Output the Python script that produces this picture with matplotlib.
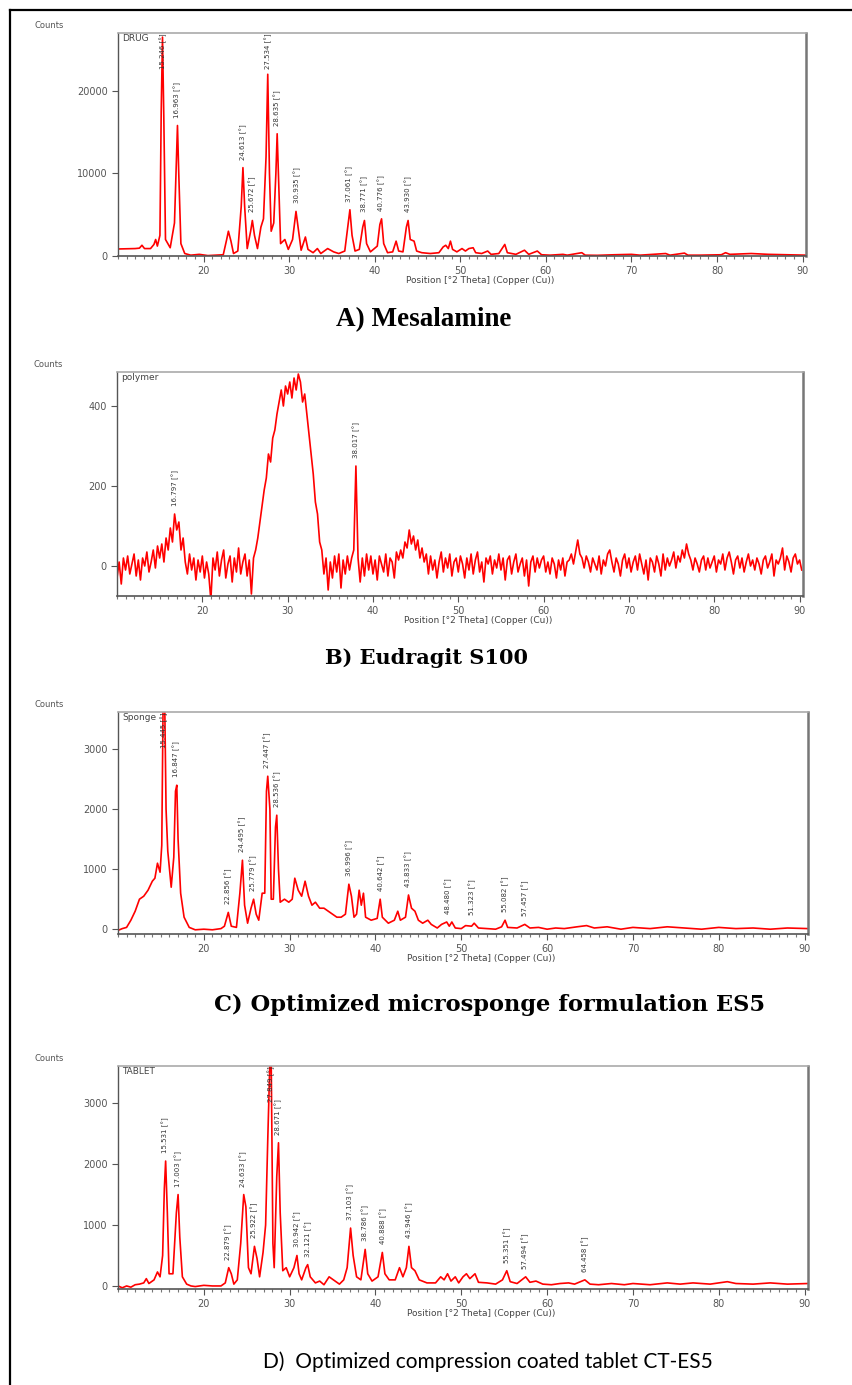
import matplotlib.pyplot as plt
import numpy as np
from matplotlib.ticker import MultipleLocator
from matplotlib.lines import Line2D

# ---- A) Mesalamine (drug) : traced (2theta, counts) points
drug_trace = [
    (10, 850), (11, 870), (12, 900), (12.5, 950), (12.8, 1300), (13.1, 900), (13.8, 900),
    (14.2, 1400), (14.4, 2000), (14.6, 1200), (14.9, 2500), (15.05, 17500), (15.2, 26500),
    (15.35, 17000), (15.55, 2000), (16.1, 1000), (16.6, 4000), (16.8, 11000), (16.95, 15800),
    (17.1, 10000), (17.35, 1500), (17.8, 300), (18.5, 100), (19.5, 200), (20.5, 50), (21.5, 100),
    (22.3, 150), (22.7, 2000), (22.9, 3000), (23.2, 1800), (23.5, 300), (24.0, 600), (24.4, 6000),
    (24.6, 10700), (24.8, 6000), (25.1, 900), (25.5, 3000), (25.7, 4300), (25.95, 2500),
    (26.3, 900), (26.7, 3500), (27.0, 4500), (27.3, 12000), (27.5, 22000), (27.7, 10000),
    (27.9, 3000), (28.2, 4000), (28.45, 10000), (28.6, 14800), (28.8, 8000), (29.0, 1500),
    (29.5, 2000), (29.9, 800), (30.4, 2000), (30.8, 5400), (31.1, 3000), (31.4, 700),
    (31.9, 2300), (32.2, 800), (32.8, 400), (33.3, 900), (33.7, 300), (34.5, 900), (35.2, 500),
    (35.8, 300), (36.5, 600), (36.9, 4000), (37.1, 5600), (37.35, 2500), (37.7, 600),
    (38.2, 800), (38.6, 3500), (38.8, 4300), (39.05, 1500), (39.5, 500), (40.3, 1200),
    (40.6, 3800), (40.8, 4500), (41.05, 1500), (41.5, 400), (42.1, 500), (42.5, 1800),
    (42.8, 600), (43.3, 500), (43.7, 3500), (43.9, 4300), (44.15, 2000), (44.6, 1800),
    (44.9, 600), (45.5, 400), (46.5, 300), (47.5, 400), (48.0, 1100), (48.3, 1300), (48.6, 900),
    (48.85, 1800), (49.1, 800), (49.6, 500), (50.2, 900), (50.6, 600), (51.0, 900), (51.5, 1000),
    (51.8, 400), (52.5, 300), (53.2, 600), (53.6, 200), (54.5, 300), (55.2, 1400), (55.5, 400),
    (56.5, 200), (57.5, 700), (58.0, 200), (59.0, 600), (59.5, 150), (60.5, 100), (62.0, 200),
    (62.5, 100), (64.2, 400), (64.6, 100), (66, 80), (68, 150), (70, 200), (71, 100), (74, 300),
    (74.5, 100), (76.2, 350), (76.6, 100), (78, 100), (80.5, 150), (81, 400), (81.5, 200),
    (84, 300), (86, 200), (88, 150), (90.4, 100),
]
drug_peaks = [15.246, 16.963, 24.613, 25.672, 27.534, 28.635, 30.935,
              37.061, 38.771, 40.776, 43.930]

# ---- B) Eudragit S100 (polymer) : counts read every 0.25 deg from 10.0
polymer_start, polymer_step = 10.0, 0.25
polymer_counts = [
    -30, 10, -45, 20, -10, 25, -20, 5, 30, -25, 15, -35, 20, 0, 35, -15, 10, 40, -5, 50,
    20, 55, 10, 70, 40, 95, 60, 130, 90, 110, 40, 70, 10, -20, 30, -10, 20, -35, 15, -15,
    25, -30, 10, -20, -85, 20, -10, 35, -25, 15, 40, -30, 5, 25, -40, 20, -15, 45, -20, 10,
    30, -25, 15, -70, 20, 40, 70, 110, 150, 190, 220, 280, 260, 320, 340, 380, 410, 440, 400, 450,
    430, 460, 420, 470, 440, 480, 460, 410, 430, 380, 330, 280, 230, 160, 130, 60, 40, -20, 20, -60,
    10, -30, 25, -15, 30, -55, 15, -20, 25, -10, 20, 40, 250, 20, -40, 20, -25, 30, -10, 25,
    -20, 15, -35, 25, 5, -15, 30, -25, 20, 10, -30, 35, 15, 40, 20, 60, 45, 90, 55, 75,
    40, 65, 20, 45, 10, 30, -20, 25, -10, 15, -30, 10, 35, -15, 20, -5, 30, -25, 10, 20,
    -15, 25, 5, -30, 20, -10, 30, -20, 15, 35, -15, 10, -40, 20, 5, 25, -20, 15, -5, 30,
    -10, 20, -35, 15, 25, -20, 10, 30, -15, 5, 20, -25, 15, -50, 10, 25, -15, 20, -5, 15,
    25, -15, 10, -20, 20, 5, -30, 15, -10, 20, -25, 10, 15, 30, 5, 35, 65, 30, 20, -5,
    25, 10, -15, 20, 5, -10, 25, -20, 15, 0, 30, 40, 10, -15, 20, 5, -25, 15, 30, -5,
    20, -15, 10, 25, -10, 30, 5, -20, 15, -35, 20, 10, -15, 25, 5, -25, 30, -10, 20, 0,
    15, 35, -5, 25, 10, 40, 20, 55, 30, 15, -10, 20, 5, -15, 15, 25, -10, 20, -5, 10,
    25, -15, 15, 5, 30, -10, 20, 35, 10, -20, 15, 25, -5, 20, -15, 10, 30, 0, 15, -10,
    20, 5, -20, 15, 25, -5, 10, 30, -25, 15, 5, 20, 45, -10, 25, 10, -15, 20, 30, 5,
    15, -10,
]
polymer_peaks = [16.797, 38.017]

# ---- C) Microsponge ES5
sponge_trace = [
    (10, -20), (10.5, 10), (11, 30), (11.5, 150), (12, 300), (12.5, 500), (13, 550), (13.5, 650),
    (14, 800), (14.3, 850), (14.6, 1100), (14.9, 950), (15.1, 1400), (15.25, 3700), (15.45, 3700),
    (15.6, 2000), (15.8, 1300), (16.2, 700), (16.5, 1200), (16.7, 2300), (16.85, 2400),
    (17.0, 1500), (17.3, 600), (17.7, 200), (18.3, 30), (19, -10), (20, 0), (21, -10), (22, 10),
    (22.4, 50), (22.85, 280), (23.2, 50), (23.8, 30), (24.2, 600), (24.5, 1150), (24.75, 400),
    (25.1, 100), (25.5, 350), (25.8, 500), (26.1, 250), (26.4, 150), (26.8, 600), (27.1, 600),
    (27.3, 2300), (27.45, 2550), (27.7, 2000), (27.85, 500), (28.1, 500), (28.35, 1700),
    (28.5, 1900), (28.7, 1000), (28.9, 450), (29.4, 500), (29.9, 450), (30.3, 500), (30.6, 850),
    (31.0, 650), (31.4, 550), (31.8, 800), (32.2, 550), (32.6, 400), (33.0, 450), (33.5, 350),
    (34.0, 350), (34.5, 300), (35, 250), (35.5, 200), (36, 200), (36.5, 250), (36.9, 750),
    (37.2, 550), (37.5, 200), (37.8, 250), (38.1, 650), (38.35, 400), (38.6, 600), (38.85, 200),
    (39.5, 150), (40.2, 180), (40.55, 500), (40.8, 200), (41.5, 100), (42.2, 150), (42.6, 300),
    (42.9, 150), (43.5, 200), (43.85, 570), (44.2, 350), (44.6, 300), (45.0, 150), (45.5, 100),
    (46.1, 150), (46.5, 80), (47.2, 20), (47.7, 80), (48.3, 120), (48.6, 50), (48.9, 120),
    (49.3, 20), (50.0, 10), (50.5, 60), (51.2, 50), (51.5, 100), (52, 20), (53, 10), (54, 0),
    (54.7, 40), (55.1, 150), (55.4, 30), (56.5, 20), (57.4, 80), (58, 20), (59, 30), (60, 0),
    (61, 20), (62, 10), (63.5, 40), (64.6, 60), (65.5, 20), (67, 40), (68.6, 0), (70, 30),
    (72, 10), (74, 40), (76, 20), (78, 0), (80, 30), (82, 10), (84, 20), (86, 0), (88, 20),
    (90.4, 10),
]
sponge_peaks = [15.445, 16.847, 22.856, 24.495, 25.779, 27.447, 28.536, 36.996,
                40.642, 43.833, 48.480, 51.323, 55.082, 57.457]

# ---- D) Compression coated tablet CT-ES5
tablet_trace = [
    (10, 0), (10.5, -30), (11, 0), (11.5, -20), (12, 20), (12.5, 30), (13, 50), (13.3, 120),
    (13.6, 40), (14.2, 100), (14.6, 230), (14.9, 150), (15.2, 500), (15.4, 1600), (15.55, 2050),
    (15.75, 1200), (15.95, 200), (16.4, 200), (16.8, 1200), (17.0, 1500), (17.2, 800),
    (17.5, 150), (18, 30), (18.5, 0), (19, -10), (20, 10), (21, 0), (22, 0), (22.5, 50),
    (22.9, 300), (23.2, 200), (23.5, 30), (23.9, 100), (24.3, 700), (24.65, 1500), (24.9, 1300),
    (25.2, 300), (25.5, 200), (25.9, 650), (26.2, 450), (26.5, 150), (26.9, 550), (27.2, 1000),
    (27.45, 2400), (27.7, 3700), (27.85, 3700), (28.05, 700), (28.2, 300), (28.5, 1800),
    (28.7, 2350), (28.9, 1200), (29.2, 250), (29.6, 300), (30.0, 150), (30.5, 300),
    (30.85, 500), (31.1, 200), (31.4, 100), (31.9, 300), (32.1, 350), (32.4, 150), (33.0, 50),
    (33.5, 80), (34.0, 20), (34.6, 150), (35.3, 80), (35.8, 30), (36.3, 100), (36.7, 300),
    (37.1, 950), (37.4, 500), (37.8, 150), (38.3, 100), (38.8, 600), (39.1, 200), (39.6, 80),
    (40.3, 150), (40.8, 550), (41.1, 200), (41.6, 100), (42.3, 100), (42.8, 300), (43.2, 150),
    (43.6, 300), (43.9, 650), (44.2, 300), (44.6, 250), (45.1, 100), (46, 50), (47, 50),
    (47.6, 150), (48.0, 100), (48.4, 200), (48.8, 80), (49.3, 150), (49.7, 50), (50.2, 150),
    (50.6, 200), (51.0, 120), (51.6, 200), (52, 60), (53, 50), (54, 30), (54.8, 100),
    (55.3, 250), (55.7, 70), (56.5, 40), (57.5, 150), (58.0, 60), (58.7, 80), (59.5, 30),
    (60.5, 20), (61.5, 40), (62.5, 50), (63.2, 30), (64.4, 100), (65, 30), (66, 20), (67.5, 40),
    (69, 20), (70, 40), (72, 20), (74, 50), (75.5, 30), (77, 50), (79, 30), (81, 70), (82, 40),
    (84, 30), (86, 50), (88, 30), (90.4, 40),
]
tablet_peaks = [15.531, 17.003, 22.879, 24.633, 25.922, 27.849, 28.671, 30.942, 32.121,
                37.103, 38.786, 40.888, 43.946, 55.351, 57.494, 64.458]

W, H = 852, 1385
fig = plt.figure(figsize=(W / 100, H / 100), dpi=100)


def px_axes(left, top, right, bottom):
    return fig.add_axes([left / W, 1 - bottom / H, (right - left) / W, (bottom - top) / H])


def draw_panel(ax, x, y, peaks, ylim, yticks, tag):
    x = np.asarray(x, float)
    y = np.asarray(y, float)
    ax.plot(x, y, color="red", lw=1.2)
    ax.set_xlim(10, 90.4)
    ax.set_ylim(ylim)
    ax.set_xticks(range(20, 91, 10))
    ax.xaxis.set_minor_locator(MultipleLocator(1))
    ax.set_yticks(yticks)
    ax.tick_params(axis="both", which="major", labelsize=7, colors="#555", length=4, width=0.8)
    ax.tick_params(axis="x", which="minor", length=2, width=0.8, colors="#777")
    for side, c, lw in [("left", "#555", 1.0), ("bottom", "#555", 1.2),
                        ("top", "#aaa", 1.2), ("right", "#777", 1.8)]:
        ax.spines[side].set_color(c)
        ax.spines[side].set_linewidth(lw)
    ax.set_xlabel("Position [°2 Theta] (Copper (Cu))", fontsize=6.5, color="#444",
                  labelpad=3)
    ax.xaxis.set_label_coords(0.526, -0.09)
    ax.annotate("Counts", xy=(0, 1), xycoords="axes fraction", xytext=(-60, 2),
                textcoords="offset points", fontsize=6, color="#555", va="bottom")
    ax.text(0.006, 0.995, tag, transform=ax.transAxes, fontsize=6.5, color="#444",
            va="top", ha="left")

    h_px = ax.get_position().height * H
    per_px = (ylim[1] - ylim[0]) / h_px
    for p in peaks:
        m = (x > p - 0.35) & (x < p + 0.35)
        top = y[m].max() if m.any() else np.interp(p, x, y)
        yb = min(top + 8 * per_px, ylim[1] - 36 * per_px)
        ax.text(p, yb, f"{p:.3f} [°]", rotation=90, ha="center", va="bottom",
                fontsize=5, color="#333", clip_on=True)


ax_a = px_axes(118, 33, 806, 256)
dx, dy = zip(*drug_trace)
draw_panel(ax_a, dx, dy, drug_peaks, (0, 27000), [0, 10000, 20000], "DRUG")

ax_b = px_axes(117, 372, 803, 596)
px_ = polymer_start + polymer_step * np.arange(len(polymer_counts))
draw_panel(ax_b, px_, polymer_counts, polymer_peaks, (-75, 485), [0, 200, 400], "polymer")

ax_c = px_axes(118, 712, 808, 934)
sx, sy = zip(*sponge_trace)
draw_panel(ax_c, sx, sy, sponge_peaks, (-80, 3620), [0, 1000, 2000, 3000], "Sponge")

ax_d = px_axes(118, 1066, 808, 1289)
tx, ty = zip(*tablet_trace)
draw_panel(ax_d, tx, ty, tablet_peaks, (-50, 3610), [0, 1000, 2000, 3000], "TABLET")

# captions
fig.text(424 / W, 1 - 320 / H, "A) Mesalamine", ha="center", va="center",
         fontsize=19.5, fontweight="bold", family="Liberation Serif")
fig.text(427 / W, 1 - 658 / H, "B) Eudragit S100", ha="center", va="center",
         fontsize=15, fontweight="bold", family="DejaVu Serif")
fig.text(490 / W, 1 - 1005 / H, "C) Optimized microsponge formulation ES5", ha="center",
         va="center", fontsize=16.2, fontweight="bold", family="DejaVu Serif")
fig.text(488 / W, 1 - 1362 / H, "D)  Optimized compression coated tablet CT-ES5",
         ha="center", va="center", fontsize=15, family="Lato")

# outer frame (left and top edges)
fig.add_artist(Line2D([10 / W, 10 / W], [0, 1 - 10 / H], color="black", lw=1.6))
fig.add_artist(Line2D([10 / W, 1], [1 - 10 / H, 1 - 10 / H], color="black", lw=1.6))

fig.savefig("out.png", dpi=100)
